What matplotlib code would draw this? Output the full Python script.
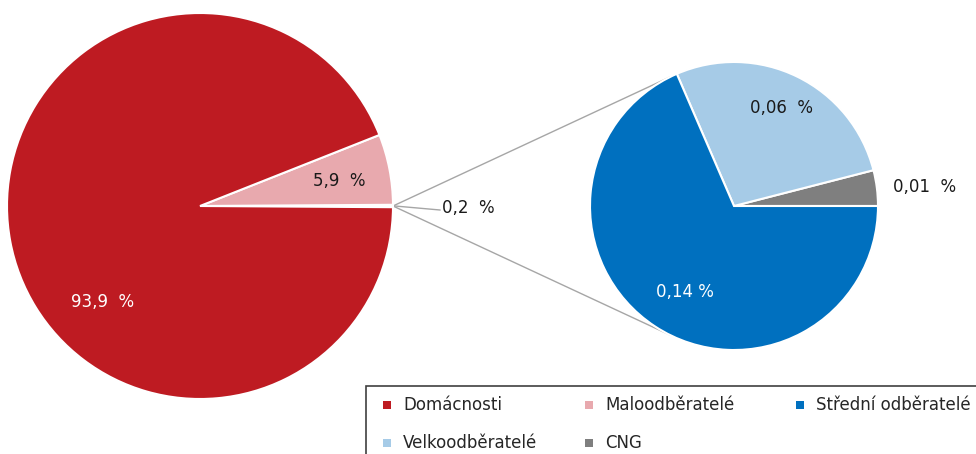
import numpy as np
import matplotlib.pyplot as plt
from matplotlib.patches import Rectangle

# main pie (left)
main_values = [0.2, 5.9, 93.9]
main_colors = ['#bfbfbf', '#e8a9ae', '#be1b22']
main_labels = ['0,2  %', '5,9  %', '93,9  %']

# detail pie (right) - breakdown of the 0,2 % slice
detail_values = [0.008, 0.055, 0.137]
detail_colors = ['#7f7f7f', '#a6cbe7', '#0070bf']
detail_labels = ['0,01  %', '0,06  %', '0,14 %']

legend_names = ['Domácnosti', 'Maloodběratelé', 'Střední odběratelé', 'Velkoodběratelé', 'CNG']
legend_colors = ['#be1b22', '#e8a9ae', '#0070bf', '#a6cbe7', '#7f7f7f']

W, H = 976, 454
fig = plt.figure(figsize=(W / 100, H / 100), dpi=100)
ax = fig.add_axes([0, 0, 1, 1])

# geometry in pixel units (y measured upward)
c1, r1 = (200, H - 206), 193
c2, r2 = (734, H - 206), 144

half = main_values[0] / sum(main_values) * 360 / 2
w1, _ = ax.pie(main_values, colors=main_colors, center=c1, radius=r1, startangle=-half,
               counterclock=True, wedgeprops=dict(edgecolor='white', linewidth=1.5))
w1[0].set_facecolor('white')
w2, _ = ax.pie(detail_values, colors=detail_colors, center=c2, radius=r2, startangle=0,
               counterclock=True, wedgeprops=dict(edgecolor='white', linewidth=1.5))

# connector lines from the small slice to the detail pie
p0 = (c1[0] + r1, c1[1])
for ang in [116.5, -116.5]:
    t = np.deg2rad(ang)
    ax.plot([p0[0], c2[0] + r2 * np.cos(t)], [p0[1], c2[1] + r2 * np.sin(t)],
            color='#a6a6a6', lw=1, zorder=0)
ax.plot([p0[0] + 2, 440], [p0[1], H - 210], color='#a6a6a6', lw=1)

fs = 12
ax.text(442, H - 208, main_labels[0], ha='left', va='center', fontsize=fs, color='#1a1a1a')
ax.text(339, H - 181, main_labels[1], ha='center', va='center', fontsize=fs, color='#1a1a1a')
ax.text(103, H - 302, main_labels[2], ha='center', va='center', fontsize=fs, color='white')
ax.text(893, H - 187, detail_labels[0], ha='left', va='center', fontsize=fs, color='#1a1a1a')
ax.text(781, H - 108, detail_labels[1], ha='center', va='center', fontsize=fs, color='#1a1a1a')
ax.text(685, H - 292, detail_labels[2], ha='center', va='center', fontsize=fs, color='white')

# legend box (cut off by the figure edge, like the original)
ax.add_patch(Rectangle((366, -20), 700, H - 386 + 20, facecolor='white',
                       edgecolor='#404040', lw=1.2, zorder=3))
col_x = [387, 589, 800]
row_y = [H - 405, H - 443]
for i, (name, col) in enumerate(zip(legend_names, legend_colors)):
    x = col_x[i % 3]
    y = row_y[i // 3]
    ax.scatter([x], [y], marker='s', s=30, color=col, zorder=4, linewidths=0)
    ax.text(x + 16, y, name, ha='left', va='center', fontsize=fs, color='#262626', zorder=4)

ax.set_xlim(0, W)
ax.set_ylim(0, H)
ax.set_aspect('auto')
ax.axis('off')

plt.savefig('out.png', dpi=100)
